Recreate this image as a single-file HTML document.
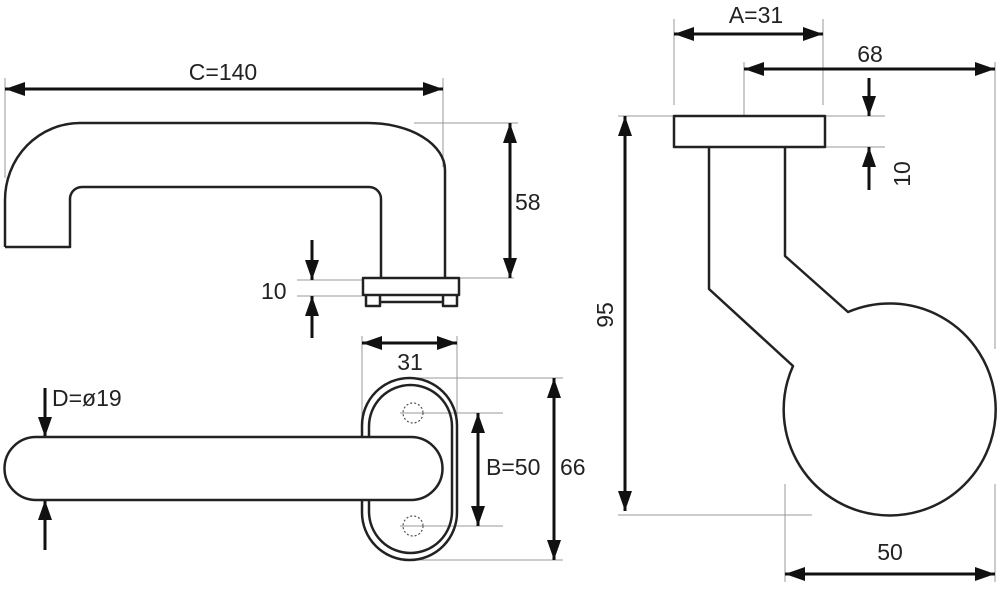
<!DOCTYPE html>
<html><head><meta charset="utf-8"><style>
html,body{margin:0;padding:0;background:#fff;}
svg{display:block;}
text{font-family:"Liberation Sans","DejaVu Sans",sans-serif;font-size:23px;fill:#222;}
</style></head><body>
<svg width="1000" height="604" viewBox="0 0 1000 604" xmlns="http://www.w3.org/2000/svg">
<defs>
<marker id="a" viewBox="0 0 20 14" refX="20" refY="7" markerWidth="20" markerHeight="14" markerUnits="userSpaceOnUse" orient="auto-start-reverse">
<path d="M0,0 L20,7 L0,14 Z" fill="#111"/>
</marker>
</defs>
<g stroke="#999" stroke-width="1" fill="none">
<!-- C ext -->
<line x1="5" y1="78" x2="5" y2="178"/><line x1="443" y1="78" x2="443" y2="167"/>
<!-- 58 ext -->
<line x1="414" y1="123" x2="518" y2="123"/><line x1="458" y1="278" x2="514" y2="278"/>
<!-- 10 ext -->
<line x1="297" y1="280" x2="362" y2="280"/><line x1="297" y1="296" x2="362" y2="296"/>
<!-- 31 ext -->
<line x1="362" y1="336" x2="362" y2="420"/><line x1="457" y1="336" x2="457" y2="440"/>
<!-- B ext -->
<line x1="400" y1="413" x2="503" y2="413"/><line x1="400" y1="526" x2="503" y2="526"/>
<!-- 66 ext -->
<line x1="413" y1="378" x2="563" y2="378"/><line x1="413" y1="560" x2="563" y2="560"/>
<!-- right view ext -->
<line x1="674" y1="19" x2="674" y2="105"/><line x1="823" y1="19" x2="823" y2="105"/>
<line x1="744" y1="62" x2="744" y2="115"/>
<line x1="995" y1="62" x2="995" y2="349"/><line x1="995" y1="484" x2="995" y2="582"/>
<line x1="825" y1="116" x2="885" y2="116"/><line x1="825" y1="147" x2="885" y2="147"/>
<line x1="618" y1="116" x2="674" y2="116"/><line x1="618" y1="515" x2="812" y2="515"/>
<line x1="785" y1="484" x2="785" y2="582"/>
</g>
<g stroke="#111" stroke-width="3" fill="none">
<line x1="5" y1="89" x2="443" y2="89" marker-start="url(#a)" marker-end="url(#a)"/>
<line x1="510" y1="123" x2="510" y2="278" marker-start="url(#a)" marker-end="url(#a)"/>
<line x1="312" y1="240" x2="312" y2="280" marker-end="url(#a)"/>
<line x1="312" y1="338" x2="312" y2="296" marker-end="url(#a)"/>
<line x1="362" y1="343" x2="457" y2="343" marker-start="url(#a)" marker-end="url(#a)"/>
<line x1="478" y1="413" x2="478" y2="526" marker-start="url(#a)" marker-end="url(#a)"/>
<line x1="554" y1="378" x2="554" y2="560" marker-start="url(#a)" marker-end="url(#a)"/>
<line x1="45" y1="388" x2="45" y2="437" marker-end="url(#a)"/>
<line x1="45" y1="550" x2="45" y2="500" marker-end="url(#a)"/>
<line x1="674" y1="34" x2="823" y2="34" marker-start="url(#a)" marker-end="url(#a)"/>
<line x1="744" y1="69" x2="995" y2="69" marker-start="url(#a)" marker-end="url(#a)"/>
<line x1="869" y1="78" x2="869" y2="116" marker-end="url(#a)"/>
<line x1="869" y1="190" x2="869" y2="147" marker-end="url(#a)"/>
<line x1="625" y1="116" x2="625" y2="511" marker-start="url(#a)" marker-end="url(#a)"/>
<line x1="785" y1="574" x2="995" y2="574" marker-start="url(#a)" marker-end="url(#a)"/>
</g>
<g stroke="#222" stroke-width="2.5" fill="none" stroke-linejoin="round">
<!-- top handle -->
<path d="M5,247 L5,200 A75,77 0 0 1 80,123 L368,123 A77,47 0 0 1 445,170 L445,278"/>
<path d="M5,247 L70,247 L70,199 A12,12 0 0 1 82,187 L369,187 A12,12 0 0 1 381,199 L381,278"/>
<rect x="363" y="278" width="96" height="17"/>
<path d="M366,295 V306 H380 V295 M380,302 H443 M443,295 V306 H457 V295"/>
<!-- rosette -->
<rect x="362" y="378" width="95" height="182" rx="47.5"/>
<rect x="369" y="385" width="83" height="168" rx="41.5"/>
<!-- lever -->
<path d="M411,437 L36,437 A31.5,31.5 0 0 0 36,500 L411,500 A31.5,31.5 0 0 0 411,437 Z" fill="#fff"/>
<!-- side view -->
<rect x="674" y="116" width="151" height="31"/>
<path d="M709,147 L709,289 L793,366 A106,106 0 1 0 848,312 L785,256 L785,147"/>
</g>
<g stroke="#555" stroke-width="1.2" fill="none" stroke-dasharray="2,2">
<circle cx="413" cy="413" r="10"/><circle cx="413" cy="526" r="10"/>
</g>
<g>
<text x="223" y="80" text-anchor="middle">C=140</text>
<text x="515" y="210">58</text>
<text x="261" y="299">10</text>
<text x="410" y="370" text-anchor="middle">31</text>
<text x="52" y="406">D=ø19</text>
<text x="486" y="475">B=50</text>
<text x="560" y="475">66</text>
<text x="756" y="23" text-anchor="middle">A=31</text>
<text x="870" y="62" text-anchor="middle">68</text>
<text x="890" y="560" text-anchor="middle">50</text>
<text transform="translate(910,174) rotate(-90)" text-anchor="middle">10</text>
<text transform="translate(613,315) rotate(-90)" text-anchor="middle">95</text>
</g>
</svg>
</body></html>
